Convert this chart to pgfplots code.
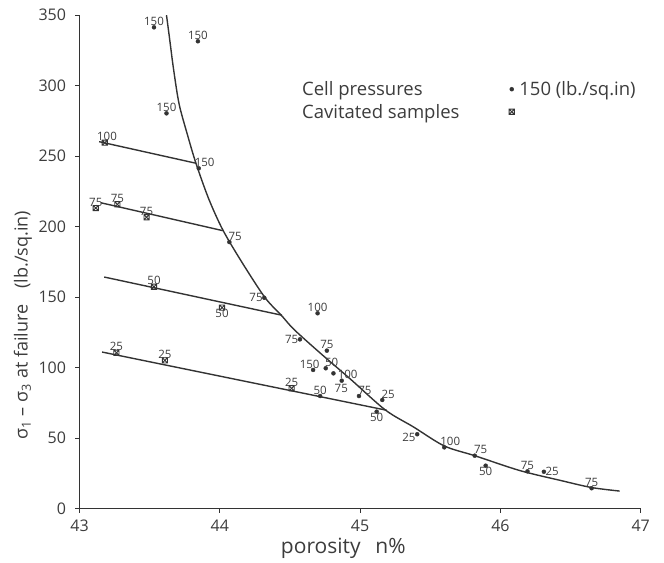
\documentclass[border=0pt]{standalone}
\usepackage{fontspec}
\setmainfont{Open Sans}
\usepackage{pgfplots}
\pgfplotsset{compat=1.18}
\definecolor{ink}{HTML}{333333}
\definecolor{txt}{HTML}{3C3C3C}

% square with a cross: cavitated samples
\pgfdeclareplotmark{boxx}{%
  \pgfpathrectangle{\pgfpoint{-\pgfplotmarksize}{-\pgfplotmarksize}}{\pgfpoint{2\pgfplotmarksize}{2\pgfplotmarksize}}%
  \pgfpathmoveto{\pgfpoint{-\pgfplotmarksize}{-\pgfplotmarksize}}%
  \pgfpathlineto{\pgfpoint{\pgfplotmarksize}{\pgfplotmarksize}}%
  \pgfpathmoveto{\pgfpoint{-\pgfplotmarksize}{\pgfplotmarksize}}%
  \pgfpathlineto{\pgfpoint{\pgfplotmarksize}{-\pgfplotmarksize}}%
  \pgfusepathqstroke}

\newcommand\ticksize{\fontsize{16}{19}\selectfont}
\newcommand\labsize{\fontsize{11.5}{13}\selectfont}
\newcommand\legsize{\fontsize{18.5}{22}\selectfont}

\pgfplotsset{
  dot/.style={only marks, mark=*, mark size=2, ink, forget plot},
  cav/.style={only marks, mark=boxx, mark size=2.6, ink, line width=0.9pt, forget plot},
  lab/.style={nodes near coords, point meta=explicit symbolic,
    every node near coord/.append style={anchor=#1, font=\labsize, text=txt, inner sep=1.5pt}},
}

\begin{document}
\begin{tikzpicture}
\begin{axis}[
  name=ax,
  width=561.2pt, height=493.5pt, scale only axis,
  xmin=43, xmax=47, ymin=0, ymax=350,
  axis lines=left,
  axis line style={-, ink, line width=1.2pt},
  xtick={43,44,45,46,47},
  ytick={0,50,...,350},
  tick align=outside, major tick length=4pt,
  tick style={ink, line width=0.8pt},
  ticklabel style={font=\ticksize, text=txt},
  yticklabel style={xshift=-6pt},
  xticklabel style={yshift=-4pt},
  /pgf/number format/assume math mode=true,
  xlabel={porosity\hspace{0.7em}n\%},
  ylabel={σ\textsubscript{1} – σ\textsubscript{3} at failure\hspace{0.9em}(lb./sq.in)},
  xlabel style={font=\fontsize{21}{24}\selectfont, text=txt,
    at={(axis description cs:0.47,-0.08)}, anchor=center},
  ylabel style={font=\fontsize{18}{21}\selectfont, text=txt,
    at={(axis description cs:-0.1007,0.372)}, anchor=center},
  legend columns=2,
  legend plot pos=right,
  legend cell align=left,
  legend style={at={(axis cs:44.55,306)}, anchor=north west, draw=none, fill=none,
    font=\legsize, text=txt, row sep=3pt},
]
% fitted curve and the constant-pressure lines
\addplot[ink, line width=1.4pt, smooth, tension=0.5, forget plot] coordinates {
  (43.62,350) (43.64,335) (43.67,312) (43.71,287) (43.77,265) (43.83,245)
  (43.92,220) (44.02,198) (44.15,176) (44.32,150) (44.44,137) (44.53,127)
  (44.72,110) (44.93,92) (45.18,70) (45.38,58) (45.60,44.5) (45.82,37.5)
  (46.14,27) (46.43,20) (46.65,15) (46.85,12.5)
};
\addplot[ink, line width=1.4pt, forget plot] coordinates {(43.14,260.3) (43.83,245)};
\addplot[ink, line width=1.4pt, forget plot] coordinates {(43.151,217.0) (44.021,197.2)};
\addplot[ink, line width=1.4pt, forget plot] coordinates {(43.176,164.3) (44.443,137.2)};
\addplot[ink, line width=1.4pt, forget plot] coordinates {(43.161,111.1) (45.19,69.8)};

% cell pressure samples, grouped by where the pressure label sits
\addplot[dot, lab=270] table[meta=lab] {
x y lab
43.531 341.4 150
43.844 331.5 150
43.62 280.4 150
44.697 138.6 100
44.763 112.1 75
44.715 79.9 50
46.193 26.5 75
46.65 14.5 75
};
\addplot[dot, lab=225] table[meta=lab] {
x y lab
43.85 241.4 150
44.068 189.1 75
44.755 99.6 50
44.869 90.8 100
44.992 79.9 75
45.158 77.1 25
45.6 43.5 100
45.817 37.6 75
};
\addplot[dot, lab=0] table[meta=lab] {
x y lab
44.317 149.6 75
44.571 120.1 75
};
\addplot[dot, lab=300] table[meta=lab] {
x y lab
44.665 98.4 150
};
\addplot[dot, lab=135, every node near coord/.append style={yshift=-9pt, xshift=2pt}] table[meta=lab] {
x y lab
44.81 96.0 75
};
\addplot[dot, lab=90] table[meta=lab] {
x y lab
45.118 68.8 50
45.895 30.5 50
};
\addplot[dot, lab=20] table[meta=lab] {
x y lab
45.407 52.8 25
};
\addplot[dot, lab=180] table[meta=lab] {
x y lab
46.31 26.2 25
};

% cavitated samples
\addplot[cav, lab=270] table[meta=lab] {
x y lab
43.116 213.2 75
43.27 215.9 75
43.478 206.7 75
43.531 157.4 50
43.263 110.6 25
43.609 105.2 25
44.512 85.4 25
};
\addplot[cav, lab=250] table[meta=lab] {
x y lab
43.18 259.6 100
};
\addplot[cav, lab=90] table[meta=lab] {
x y lab
44.016 142.6 50
};

\addlegendimage{only marks, mark=*, mark size=2, ink}
\addlegendentry{\makebox[205pt][l]{Cell pressures}}
\addlegendimage{empty legend}
\addlegendentry{\hspace{3pt}150 (lb./sq.in)}
\addlegendimage{only marks, mark=boxx, mark size=2.6, ink, line width=0.9pt}
\addlegendentry{\makebox[205pt][l]{Cavitated samples}}
\end{axis}
\pgfresetboundingbox
\path[use as bounding box] ([xshift=-79.5pt,yshift=-54.3pt]ax.south west)
  rectangle ([xshift=23.3pt,yshift=15.2pt]ax.north east);
\end{tikzpicture}
\end{document}
